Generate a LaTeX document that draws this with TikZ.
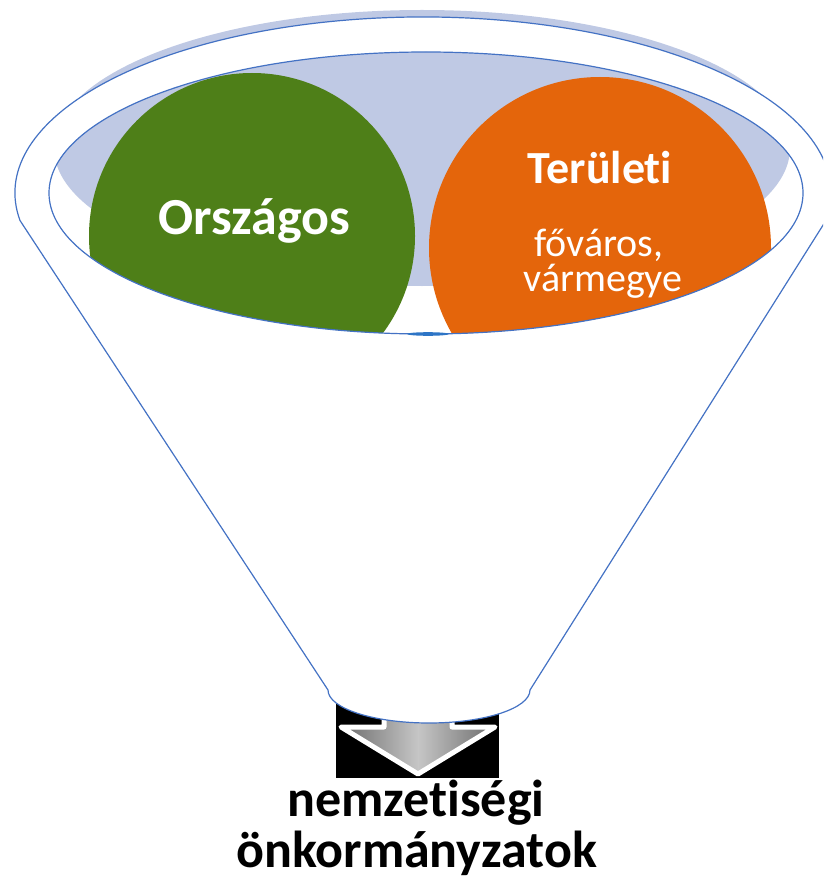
\documentclass[tikz,border=0pt]{standalone}
\usepackage{fontspec}
\setmainfont{Carlito}[RawFeature={-liga;-dlig}]
\definecolor{lineblue}{HTML}{4472C4}
\definecolor{paleblue}{HTML}{BFC9E4}
\definecolor{leafgreen}{HTML}{4E7F18}
\definecolor{deeporange}{HTML}{E4650B}
\definecolor{blobblue}{HTML}{2E75C6}
\tikzset{
  funnelline/.style={draw=lineblue, line width=1.2pt, line join=round},
  bubble/.style={circle, inner sep=0pt, draw=none},
  label/.style={inner sep=0pt, anchor=base, text=white},
  bottomlabel/.style={inner sep=0pt, anchor=base, text=black, font=\fontsize{52}{52}\selectfont\bfseries},
  metalarrow/.style={draw=white, line width=5pt, line join=round,
    left color=gray!85!black, right color=gray!85!black, middle color=gray!45},
}
\begin{document}
\begin{tikzpicture}[x=1pt,y=-1pt]
\useasboundingbox (0,0) rectangle (823,877);
\clip (0,0) rectangle (823,877);
% pale blue disc behind the funnel mouth
\coordinate (pale) at (422,148);
\fill[paleblue] (pale) ellipse[x radius=368pt, y radius=138pt];
% black box and down arrow at the funnel outlet
\fill[black] (336,690) rectangle (499,778);
\path[metalarrow] (384,680) -- (384,727) -- (341,727) -- (418,774) -- (495,727) -- (452,727) -- (452,680) -- cycle;
% funnel body
\draw[funnelline, fill=white] (20,220.5) arc[start angle=189, end angle=-9, x radius=408pt, y radius=176pt]
  -- (530,690) arc[start angle=0, end angle=-180, x radius=101pt, y radius=33pt] -- cycle;
% inner mouth
\coordinate (mouth) at (426,193);
\begin{scope}
  \clip (mouth) ellipse[x radius=377pt, y radius=141pt];
  \fill[paleblue] (pale) ellipse[x radius=368pt, y radius=138pt];
  \node[bubble, fill=leafgreen, minimum size=326pt] (green) at (252,236) {};
  \node[bubble, fill=deeporange, minimum size=342pt] (orange) at (600,248) {};
\end{scope}
\draw[funnelline] (mouth) ellipse[x radius=377pt, y radius=141pt];
\fill[blobblue] (428,334) ellipse[x radius=21pt, y radius=1.8pt];
% labels
\node[label, font=\fontsize{52}{52}\selectfont\bfseries] (orszagos) at (254,235) {Országos};
\node[label, font=\fontsize{46}{46}\selectfont\bfseries] (teruleti) at (600,184) {Területi};
\node[label, font=\fontsize{40}{40}\selectfont] (fovaros) at (599,256) {főváros,};
\node[label, font=\fontsize{40}{40}\selectfont] (varmegye) at (603,291) {vármegye};
\node[bottomlabel] (nemz) at (416,816) {nemzetiségi};
\node[bottomlabel] (onk) at (416.5,867) {önkormányzatok};
\end{tikzpicture}
\end{document}
